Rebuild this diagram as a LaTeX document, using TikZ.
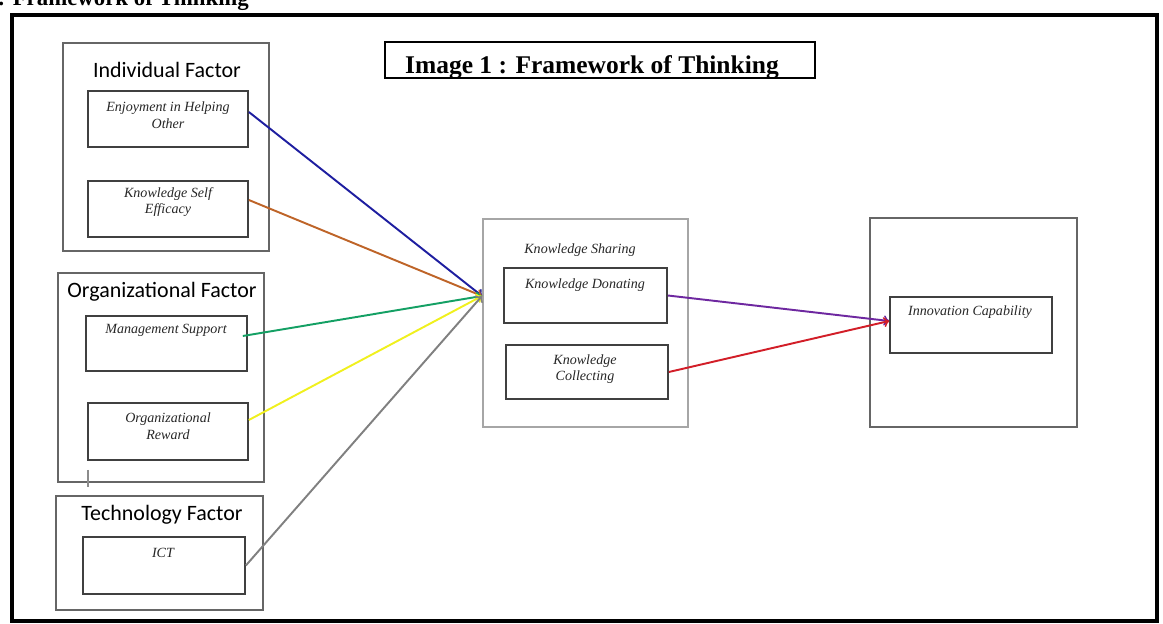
\documentclass[tikz,border=0pt]{standalone}
\usepackage{fontspec}
\setmainfont{Liberation Serif}
\newfontfamily\calibri{Carlito}
\definecolor{lnblue}{RGB}{30,30,160}
\definecolor{lnorange}{RGB}{190,100,40}
\definecolor{lngreen}{RGB}{20,160,100}
\definecolor{lnyellow}{RGB}{240,240,30}
\definecolor{lngray}{RGB}{128,128,128}
\definecolor{lnpurple}{RGB}{110,40,160}
\definecolor{lnred}{RGB}{210,30,40}

\begin{document}
\begin{tikzpicture}[x=0.02cm,y=-0.02cm,
  frame/.style={draw=black!60,line width=0.8pt,rectangle,inner sep=0pt},
  item/.style={draw=black!75,line width=1pt,rectangle,inner sep=0pt},
  head/.style={font=\calibri\fontsize{12.5}{14}\selectfont},
  txt/.style={font=\itshape\fontsize{8}{9.5}\selectfont,text=black!85,align=center},
  link/.style={->,line width=1.1pt}]
\useasboundingbox (0,0) rectangle (1163,624);
% cut heading and outer frame
\node[anchor=base east,font=\bfseries\fontsize{13}{15}\selectfont] (toptitle) at (255,6) {1 : Framework of Thinking};
\draw[line width=2.3pt] (12,15) rectangle (1157,621);
\node[draw,line width=1.1pt,minimum width=8.6cm,minimum height=0.72cm,inner sep=0pt] (titlebox) at (600,60) {};
\node[anchor=base,font=\bfseries\fontsize{14.5}{16}\selectfont] (title) at (592,74) {Image 1 : Framework of Thinking};

% individual factor
\node[frame,minimum width=4.12cm,minimum height=4.16cm] (indiv) at (166,147) {};
\node[head] (indivlbl) at (167,70) {Individual Factor};
\node[item,minimum width=3.2cm,minimum height=1.12cm] (eho) at (168,119) {};
\node[txt] (eholbl) at (168,115) {Enjoyment in Helping\\Other};
\node[item,minimum width=3.2cm,minimum height=1.12cm] (kse) at (168,209) {};
\node[txt] (kselbl) at (168,202) {Knowledge Self\\Efficacy};

% organizational factor
\node[frame,minimum width=4.12cm,minimum height=4.18cm] (org) at (161,377.5) {};
\node[head] (orglbl) at (162,292) {Organizational Factor};
\node[item,minimum width=3.22cm,minimum height=1.1cm] (ms) at (166.5,343.5) {};
\node[txt] (mslbl) at (166,330) {Management Support};
\node[item,minimum width=3.2cm,minimum height=1.14cm] (orw) at (168,431.5) {};
\node[txt] (orwlbl) at (168,426) {Organizational\\Reward};
\draw[black!45,line width=0.6pt] (88,470) -- (88,487);

% technology factor
\node[frame,minimum width=4.14cm,minimum height=2.28cm] (tech) at (159.5,553) {};
\node[head] (techlbl) at (162,515) {Technology Factor};
\node[item,minimum width=3.24cm,minimum height=1.14cm] (ict) at (164,565.5) {};
\node[txt] (ictlbl) at (163,553) {ICT};

% knowledge sharing
\node[frame,draw=black!35,minimum width=4.1cm,minimum height=4.16cm] (ks) at (585.5,323) {};
\node[txt] (kslbl) at (580,250) {Knowledge Sharing};
\node[item,minimum width=3.26cm,minimum height=1.1cm] (kd) at (585.5,295.5) {};
\node[txt] (kdlbl) at (585,285) {Knowledge Donating};
\node[item,minimum width=3.24cm,minimum height=1.08cm] (kc) at (587,372) {};
\node[txt] (kclbl) at (585,369) {Knowledge\\Collecting};

% innovation capability
\node[frame,minimum width=4.14cm,minimum height=4.18cm] (innov) at (973.5,322.5) {};
\node[item,minimum width=3.24cm,minimum height=1.12cm] (ic) at (971,325) {};
\node[txt] (iclbl) at (970,312) {Innovation Capability};

\coordinate (hub) at (482,296);
\draw[link,lnblue] ([yshift=0.14cm]eho.east) -- (hub);
\draw[link,lnorange] ([yshift=0.18cm]kse.east) -- (hub);
\draw[link,lngreen] ([xshift=-0.1cm,yshift=0.15cm]ms.east) -- (hub);
\draw[link,lnyellow] ([yshift=0.23cm]orw.east) -- (hub);
\draw[link,lngray] (ict.east) -- (hub);
\draw[link,lnpurple] (kd.east) -- ([yshift=0.08cm]ic.west);
\draw[link,lnred] (kc.east) -- ([yshift=0.08cm]ic.west);
\end{tikzpicture}
\end{document}
